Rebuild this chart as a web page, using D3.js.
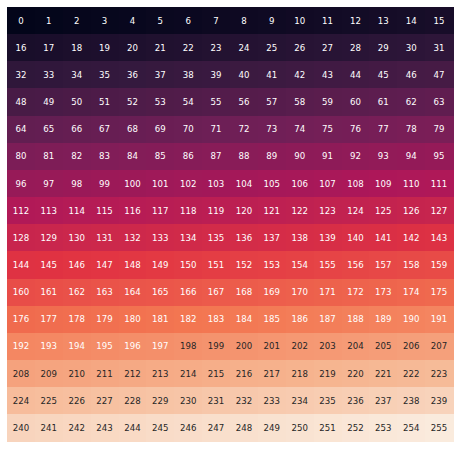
<!DOCTYPE html>
<html><head><meta charset="utf-8">
<script src="https://cdn.jsdelivr.net/npm/d3@7"></script>
<style>body{margin:0;background:#fff}</style>
</head><body>
<svg id="chart" width="460" height="449"></svg>
<script>
const rows = [0,1,2,3,4,5,6,7,8,9,10,11,12,13,14,15];
const cols = [0,1,2,3,4,5,6,7,8,9,10,11,12,13,14,15];
const values = [
  [0,1,2,3,4,5,6,7,8,9,10,11,12,13,14,15],
  [16,17,18,19,20,21,22,23,24,25,26,27,28,29,30,31],
  [32,33,34,35,36,37,38,39,40,41,42,43,44,45,46,47],
  [48,49,50,51,52,53,54,55,56,57,58,59,60,61,62,63],
  [64,65,66,67,68,69,70,71,72,73,74,75,76,77,78,79],
  [80,81,82,83,84,85,86,87,88,89,90,91,92,93,94,95],
  [96,97,98,99,100,101,102,103,104,105,106,107,108,109,110,111],
  [112,113,114,115,116,117,118,119,120,121,122,123,124,125,126,127],
  [128,129,130,131,132,133,134,135,136,137,138,139,140,141,142,143],
  [144,145,146,147,148,149,150,151,152,153,154,155,156,157,158,159],
  [160,161,162,163,164,165,166,167,168,169,170,171,172,173,174,175],
  [176,177,178,179,180,181,182,183,184,185,186,187,188,189,190,191],
  [192,193,194,195,196,197,198,199,200,201,202,203,204,205,206,207],
  [208,209,210,211,212,213,214,215,216,217,218,219,220,221,222,223],
  [224,225,226,227,228,229,230,231,232,233,234,235,236,237,238,239],
  [240,241,242,243,244,245,246,247,248,249,250,251,252,253,254,255]
];
// rocket colormap approximation
const rocketStops = [0, 1/7, 2/7, 3/7, 4/7, 5/7, 6/7, 1];
const rocketColors = ["#03051a","#35193e","#701f57","#ad1759","#e13342","#f37651","#f6b48f","#faebdd"];
const darkTextFrom = 198; // cells from this value on carry dark annotations

const svg = d3.select("#chart");
const x = d3.scaleBand().domain(cols).range([7, 453]).padding(0);
const y = d3.scaleBand().domain(rows).range([7, 441.5]).padding(0);
const color = d3.scaleLinear().domain(rocketStops.map(s => s * 255)).range(rocketColors).interpolate(d3.interpolateRgb);

const cells = [];
values.forEach((row, r) => row.forEach((v, c) => cells.push({r, c, v})));

svg.append("g").attr("shape-rendering", "crispEdges")
  .selectAll("rect.cell").data(cells).join("rect")
  .attr("class", "cell")
  .attr("x", d => x(d.c)).attr("y", d => y(d.r))
  .attr("width", x.bandwidth() + 0.6).attr("height", y.bandwidth() + 0.6)
  .attr("fill", d => color(d.v));

svg.append("g").selectAll("text.lbl").data(cells).join("text")
  .attr("class", "lbl")
  .attr("x", d => x(d.c) + x.bandwidth() / 2)
  .attr("y", d => y(d.r) + y.bandwidth() / 2)
  .attr("text-anchor", "middle").attr("dominant-baseline", "central")
  .attr("font-family", "DejaVu Sans")
  .attr("font-size", "8.6px")
  .attr("fill", d => d.v >= darkTextFrom ? "#262626" : "#ffffff")
  .text(d => d.v);
</script>
</body></html>
